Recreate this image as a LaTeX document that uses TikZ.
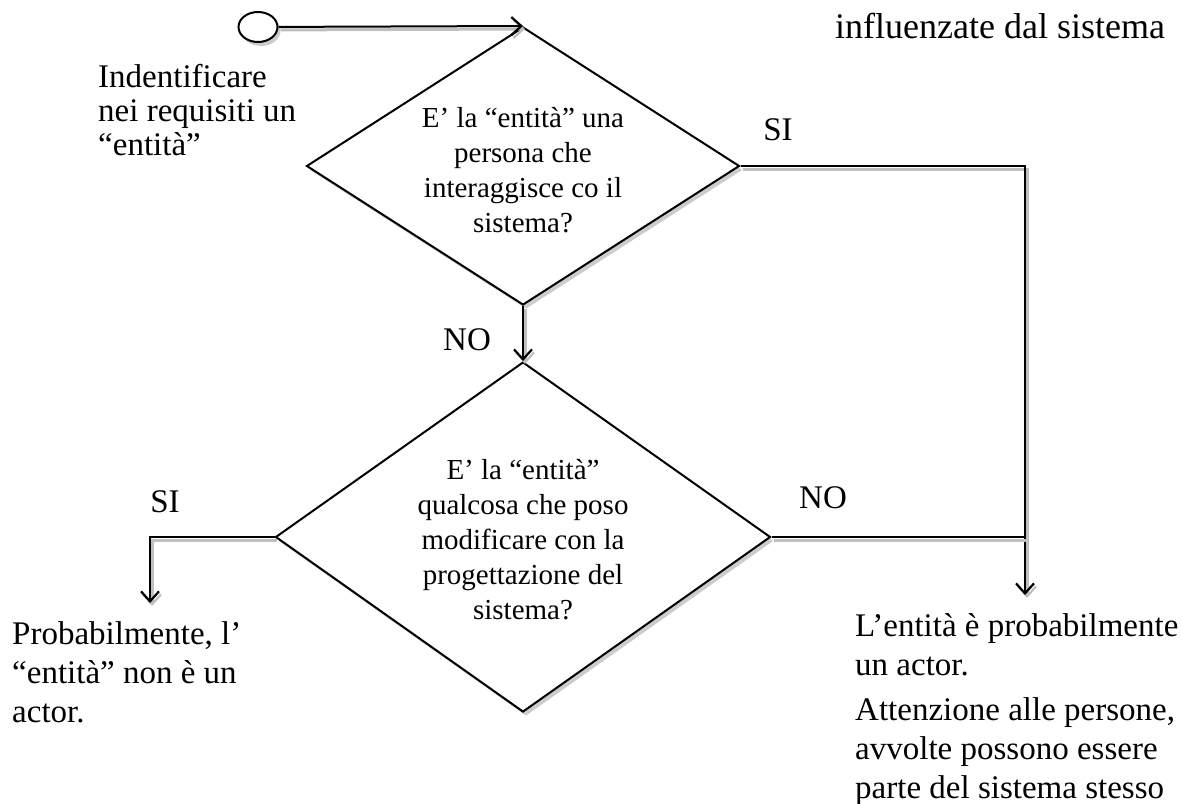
\documentclass[tikz,border=0pt]{standalone}
\usepackage{fontspec}
\setmainfont{Liberation Serif}
\usetikzlibrary{shapes.geometric}
\usetikzlibrary{positioning}
\usetikzlibrary{arrows.meta}
\usetikzlibrary{shadows}

\begin{document}
\begin{tikzpicture}[x=1pt,y=-1pt,
    decision/.style={draw, diamond, fill=white, line width=2pt, inner sep=0pt,
      drop shadow={shadow xshift=3pt, shadow yshift=-4pt, opacity=0.4}},
    question/.style={align=center, font=\fontsize{29}{35}\selectfont},
    note/.style={align=left, anchor=north west, inner sep=0pt, font=\fontsize{33}{39}\selectfont},
    answer/.style={font=\fontsize{33}{35}\selectfont},
    link/.style={line width=2pt,
      preaction={draw=black!25, line width=3pt, transform canvas={shift={(2pt,-3pt)}}}},
    flow/.style={link, -{Straight Barb[length=10pt,width=18pt,line width=2.2pt]}},
  ]
  \useasboundingbox (0,0) rectangle (1182,803);

  % start and the two questions
  \node[draw, ellipse, fill=white, line width=2pt, minimum width=39pt, minimum height=30pt, inner sep=0pt,
    drop shadow={shadow xshift=3pt, shadow yshift=-4pt, opacity=0.4}] (start) at (258,27) {};
  \node[decision, minimum width=433pt, minimum height=278pt] (d1) at (523,166) {};
  \node[decision, minimum width=495pt, minimum height=350pt] (d2) at (523,537) {};

  \node[question] (q1) at ([yshift=-4pt]d1.center) {E’ la “entità” una\\persona che\\interaggisce co il\\sistema?};
  \node[question] (q2) at ([yshift=-3pt]d2.center) {E’ la “entità”\\qualcosa che poso\\modificare con la\\progettazione del\\sistema?};

  % connectors
  \coordinate (yesend) at (1025,595);
  \coordinate (noend) at (150,603);
  \draw[flow] (start) -- (d1.north);
  \draw[flow] (d1.south) -- (d2.north);
  \draw[flow] (d1.east) -| (yesend);
  \draw[link] (d2.east) -- (d2.east -| yesend);
  \draw[flow] (d2.west) -| (noend);

  % answers
  \node[answer] (si1) at (778,130) {SI};
  \node[answer] (no1) at (467,340) {NO};
  \node[answer] (si2) at (165,502) {SI};
  \node[answer] (no2) at (823,498) {NO};

  % notes
  \node[note, font=\fontsize{33}{34}\selectfont] (entity) at (98,64) {Indentificare\\nei requisiti un\\“entità”};
  \node[note] (notactor) at (12,621) {Probabilmente, l’\\“entità” non è un\\actor.};
  \node[note] (actor) at (855,613) {L’entità è probabilmente\\un actor.\\[6pt]Attenzione alle persone,\\avvolte possono essere\\parte del sistema stesso};
  \node[note, font=\fontsize{36}{38}\selectfont] (influenced) at (835,13) {influenzate dal sistema};
\end{tikzpicture}
\end{document}
